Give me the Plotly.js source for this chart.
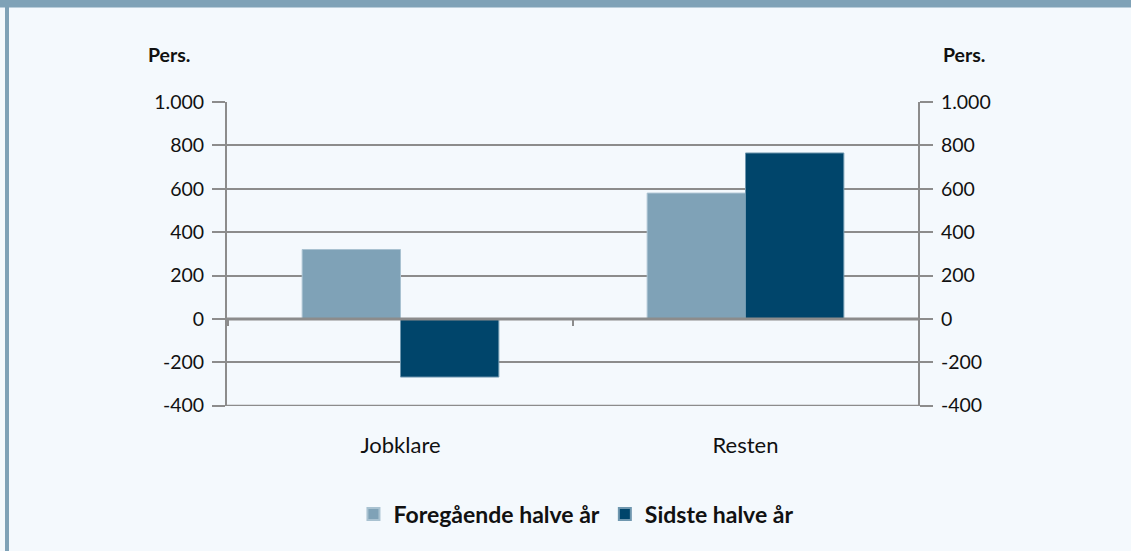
<!DOCTYPE html>
<html>
<head>
<meta charset="utf-8">
<script src="https://cdn.plot.ly/plotly-3.0.1.min.js"></script>
<style>
html,body{margin:0;padding:0;background:#F4F9FD;}
#chart{width:1131px;height:551px;}
</style>
</head>
<body>
<div id="chart"></div>
<script>
const categories = ["Jobklare", "Resten"];
const seriesNames = ["Foregående halve år", "Sidste halve år"];
const previousHalf = [320, 580];
const lastHalf = [-268, 765];
const yTickValues = [-400, -200, 0, 200, 400, 600, 800, 1000];
const yTickLabels = ["-400", "-200", "0", "200", "400", "600", "800", "1.000"];

const FONT = "Lato, 'Open Sans', sans-serif";
const gridColor = "#8C8C8C";

const traces = [
  {type: "bar", name: seriesNames[0], x: categories, y: previousHalf,
   marker: {color: "#7FA2B7", line: {color: "#A9C2D1", width: 1}}},
  {type: "bar", name: seriesNames[1], x: categories, y: lastHalf,
   marker: {color: "#00456B", line: {color: "#6F97AF", width: 1}}},
  {type: "scatter", x: categories, y: [null, null], yaxis: "y2",
   showlegend: false, hoverinfo: "skip"}
];

const yCommon = {
  range: [-401.5, 1000], tickvals: yTickValues, ticktext: yTickLabels,
  ticks: "outside", ticklen: 13, tickcolor: gridColor, tickwidth: 2,
  showline: true, linecolor: gridColor, linewidth: 2,
  tickfont: {family: FONT, size: 19.5, color: "#111"},
  zeroline: false, fixedrange: true, automargin: false
};

const layout = {
  width: 1131, height: 551,
  paper_bgcolor: "#F4F9FD", plot_bgcolor: "#F4F9FD",
  margin: {l: 227, r: 213, t: 102, b: 145, autoexpand: false},
  barmode: "group", bargap: 0.43, bargroupgap: 0,
  showlegend: true,
  legend: {orientation: "h", x: 0.505, xanchor: "center", yref: "container", y: 0.067, yanchor: "middle",
           font: {family: FONT, size: 23, color: "#111", weight: "bold"},
           traceorder: "normal", bgcolor: "rgba(0,0,0,0)", itemsizing: "constant", itemwidth: 30},
  xaxis: {showline: false, ticks: "", showgrid: false, zeroline: false, automargin: false,
          tickfont: {family: FONT, size: 22, color: "#111"}, ticklabelstandoff: 24},
  yaxis: Object.assign({}, yCommon, {side: "left", showgrid: true, gridcolor: gridColor, gridwidth: 2, ticklabelstandoff: 4}),
  yaxis2: Object.assign({}, yCommon, {side: "right", overlaying: "y", showgrid: false, ticklabelstandoff: 4}),
  annotations: [
    {text: "<b>Pers.</b>", xref: "paper", yref: "paper", x: -0.084, y: 1.157, showarrow: false,
     xanchor: "center", yanchor: "middle", font: {family: FONT, size: 19.5, color: "#111"}},
    {text: "<b>Pers.</b>", xref: "paper", yref: "paper", x: 1.066, y: 1.157, showarrow: false,
     xanchor: "center", yanchor: "middle", font: {family: FONT, size: 19.5, color: "#111"}}
  ],
  shapes: [
    {type: "rect", xref: "paper", yref: "paper", xsizemode: "pixel", ysizemode: "pixel",
     xanchor: 0, yanchor: 1, x0: -300, x1: 1000, y0: 102, y1: 94.5,
     fillcolor: "#7FA2B7", line: {width: 0}, layer: "above"},
    {type: "rect", xref: "paper", yref: "paper", xsizemode: "pixel", ysizemode: "pixel",
     xanchor: 0, yanchor: 1, x0: -222, x1: -218, y0: 96, y1: -460,
     fillcolor: "#7FA2B7", line: {width: 0}, layer: "above"},
    {type: "line", xref: "paper", yref: "y", x0: 0, x1: 1, y0: yTickValues[0], y1: yTickValues[0],
     line: {color: gridColor, width: 2}, layer: "below"},
    {type: "line", xref: "x", yref: "y", ysizemode: "pixel", yanchor: 0,
     x0: 0.5, x1: 0.5, y0: 0, y1: -7, line: {color: gridColor, width: 2}},
    {type: "line", xref: "x", yref: "y", ysizemode: "pixel", yanchor: 0,
     x0: -0.5, x1: -0.5, y0: 0, y1: -7, line: {color: gridColor, width: 2}},
    {type: "line", xref: "paper", yref: "y", x0: 0, x1: 1, y0: 0, y1: 0,
     line: {color: gridColor, width: 3}, layer: "above"}
  ]
};

Plotly.newPlot("chart", traces, layout, {displayModeBar: false, staticPlot: true});
</script>
</body>
</html>
